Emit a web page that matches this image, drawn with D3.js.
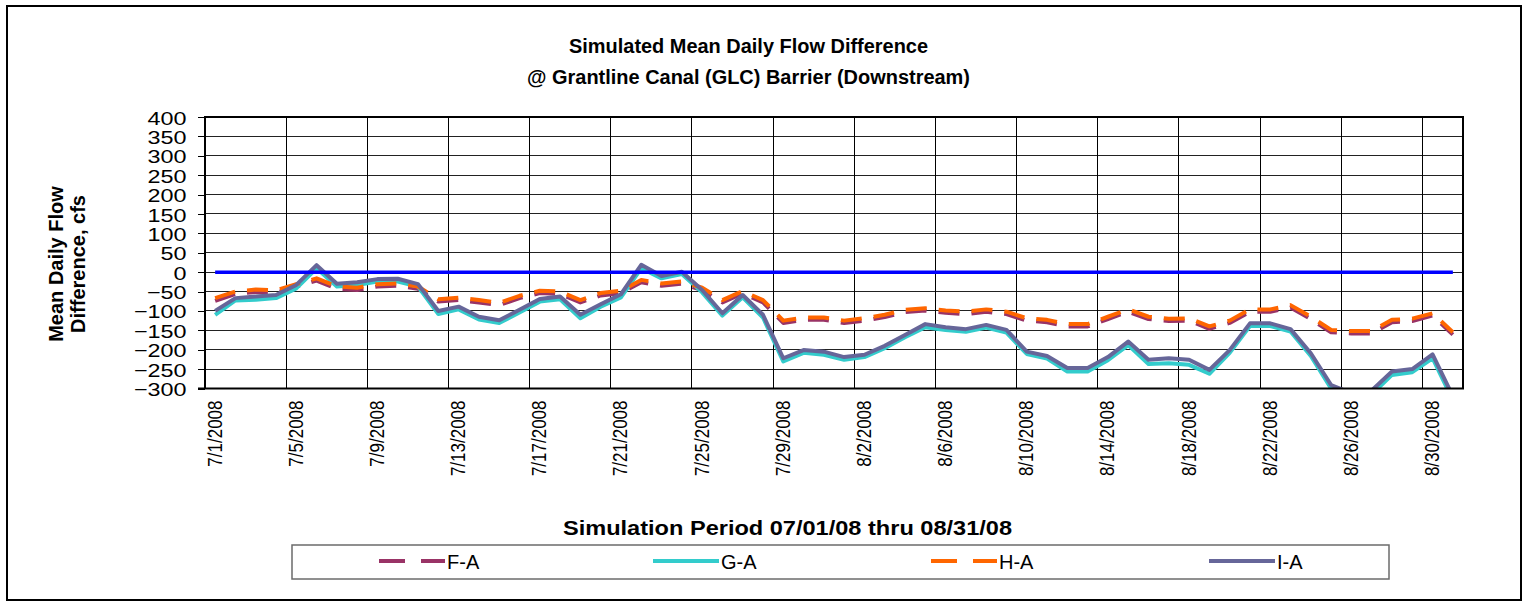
<!DOCTYPE html>
<html>
<head>
<meta charset="utf-8">
<script src="https://cdn.jsdelivr.net/npm/d3@7/dist/d3.min.js"></script>
<style>
  html, body { margin: 0; padding: 0; background: #fff; }
  svg { display: block; font-family: "Liberation Sans", Arial, sans-serif; }
</style>
</head>
<body>
<svg id="chart" width="1528" height="607"></svg>
<script>
const categories = [
  "7/1/2008","7/2/2008","7/3/2008","7/4/2008","7/5/2008","7/6/2008","7/7/2008","7/8/2008",
  "7/9/2008","7/10/2008","7/11/2008","7/12/2008","7/13/2008","7/14/2008","7/15/2008","7/16/2008",
  "7/17/2008","7/18/2008","7/19/2008","7/20/2008","7/21/2008","7/22/2008","7/23/2008","7/24/2008",
  "7/25/2008","7/26/2008","7/27/2008","7/28/2008","7/29/2008","7/30/2008","7/31/2008","8/1/2008",
  "8/2/2008","8/3/2008","8/4/2008","8/5/2008","8/6/2008","8/7/2008","8/8/2008","8/9/2008",
  "8/10/2008","8/11/2008","8/12/2008","8/13/2008","8/14/2008","8/15/2008","8/16/2008","8/17/2008",
  "8/18/2008","8/19/2008","8/20/2008","8/21/2008","8/22/2008","8/23/2008","8/24/2008","8/25/2008",
  "8/26/2008","8/27/2008","8/28/2008","8/29/2008","8/30/2008","8/31/2008"
];
const xTickLabels = ["7/1/2008","7/5/2008","7/9/2008","7/13/2008","7/17/2008","7/21/2008","7/25/2008",
  "7/29/2008","8/2/2008","8/6/2008","8/10/2008","8/14/2008","8/18/2008","8/22/2008","8/26/2008","8/30/2008"];
const yTicks = [400,350,300,250,200,150,100,50,0,-50,-100,-150,-200,-250,-300];

const seriesFA = [-74,-56,-51,-53,-37,-22,-43,-46,-37,-35,-43,-76,-72,-78,-85,-67,-54,-56,-78,-60,-54,-26,-35,-30,-46,-78,-55,-78,-131,-123,-123,-131,-125,-116,-103,-99,-105,-108,-102,-108,-125,-129,-140,-140,-121,-102,-121,-126,-125,-146,-131,-102,-102,-91,-121,-155,-158,-158,-129,-126,-112,-161];
const seriesGA = [-110,-73,-71,-67,-42,10,-37,-33,-24,-24,-37,-108,-96,-122,-131,-104,-76,-70,-119,-89,-65,10,-16,-5,-52,-112,-65,-117,-230,-208,-213,-226,-219,-196,-168,-142,-149,-154,-143,-156,-211,-223,-256,-256,-227,-188,-237,-235,-239,-262,-208,-139,-139,-153,-216,-300,-320,-315,-265,-258,-222,-330];
const seriesHA = [-67,-50,-45,-47,-31,-16,-37,-40,-31,-29,-37,-70,-66,-72,-79,-61,-48,-50,-72,-54,-48,-20,-29,-24,-40,-72,-49,-72,-125,-117,-117,-125,-119,-110,-97,-93,-99,-102,-96,-102,-119,-123,-134,-134,-115,-96,-115,-120,-119,-140,-125,-96,-96,-85,-115,-149,-152,-152,-123,-120,-106,-155];
const seriesIA = [-100,-67,-63,-59,-33,18,-30,-26,-18,-17,-31,-100,-89,-115,-124,-97,-69,-63,-110,-83,-57,19,-10,1,-46,-106,-59,-110,-222,-201,-205,-219,-213,-190,-162,-134,-142,-147,-136,-149,-205,-216,-247,-247,-219,-179,-226,-222,-226,-252,-201,-132,-132,-147,-209,-291,-312,-305,-256,-250,-212,-320];
const seriesBase = [0,0,0,0,0,0,0,0,0,0,0,0,0,0,0,0,0,0,0,0,0,0,0,0,0,0,0,0,0,0,0,0,0,0,0,0,0,0,0,0,0,0,0,0,0,0,0,0,0,0,0,0,0,0,0,0,0,0,0,0,0,0];

const seriesNames = ["F-A","G-A","H-A","I-A"];
const seriesColors = ["#993366","#33CCCC","#FF6600","#666699"];

const svg = d3.select("#chart");
const L = 205, R = 1463, T = 117, B = 388.5;

// outer border
svg.append("rect").attr("x",7).attr("y",6).attr("width",1514).attr("height",594)
  .attr("fill","#fff").attr("stroke","#000").attr("stroke-width",2);

const x = d3.scaleBand().domain(categories).range([L,R]).paddingInner(0).paddingOuter(0);
const bw = x.bandwidth();
const xc = c => x(c) + bw/2;
const y = d3.scaleLinear().domain([-300,400]).range([B,T]);

// gridlines
const grid = svg.append("g").attr("shape-rendering","crispEdges");
grid.selectAll("line.h").data(yTicks.filter(v => v!==400 && v!==-300)).join("line")
  .attr("x1",L).attr("x2",R).attr("y1",d=>y(d)).attr("y2",d=>y(d))
  .attr("stroke","#222").attr("stroke-width",1);
grid.selectAll("line.v").data(categories.filter((c,i)=> i>0 && i%4===0)).join("line")
  .attr("x1",d=>x(d)).attr("x2",d=>x(d)).attr("y1",T).attr("y2",B)
  .attr("stroke","#000").attr("stroke-width",1);

// y axis
const yAxis = svg.append("g").attr("transform",`translate(${L},0)`)
  .call(d3.axisLeft(y).tickValues(yTicks).tickSize(7).tickPadding(0).tickFormat(d3.format("d")));
yAxis.select(".domain").remove();
yAxis.selectAll(".tick line").attr("stroke","#000").attr("stroke-width",1).attr("shape-rendering","crispEdges");
yAxis.selectAll(".tick text").attr("font-size",19).attr("fill","#000")
  .attr("font-family","'Liberation Sans', Arial, sans-serif")
  .attr("x",0).attr("dy","0.37em")
  .attr("transform","translate(-18.5,0) scale(1.23,1)");

// x axis labels
const xAxis = svg.append("g").attr("transform",`translate(0,${B})`)
  .call(d3.axisBottom(x).tickValues(xTickLabels).tickSize(0).tickPadding(0));
xAxis.select(".domain").remove();
xAxis.selectAll(".tick text")
  .attr("font-size",17).attr("fill","#000")
  .attr("font-family","'Liberation Sans', Arial, sans-serif")
  .attr("text-anchor","end").attr("x",0).attr("y",0).attr("dy",0)
  .attr("transform","translate(6.5,12) scale(1.18,1) rotate(-90)");

// lines
const clip = svg.append("clipPath").attr("id","plotclip");
clip.append("rect").attr("x",L).attr("y",T).attr("width",R-L).attr("height",B-T);
const lineGen = d3.line().x((d,i)=>xc(categories[i])).y(d=>y(d));
const plot = svg.append("g").attr("clip-path","url(#plotclip)");
const seriesData = [seriesFA, seriesGA, seriesHA, seriesIA];
const dashes = ["21,12", null, "21,12", null];
seriesData.forEach((s,k)=>{
  plot.append("path").datum(s).attr("d",lineGen)
    .attr("fill","none").attr("stroke",seriesColors[k]).attr("stroke-width",4)
    .attr("stroke-linejoin","round")
    .attr("stroke-dasharray",dashes[k]);
});
plot.append("path").datum(seriesBase).attr("d",lineGen)
  .attr("fill","none").attr("stroke","#0000FF").attr("stroke-width",3.5);

// plot frame
svg.append("rect").attr("x",L).attr("y",T).attr("width",R-L).attr("height",B-T)
  .attr("fill","none").attr("stroke","#000").attr("stroke-width",2);
svg.append("line").attr("x1",198).attr("x2",L).attr("y1",B).attr("y2",B)
  .attr("stroke","#000").attr("stroke-width",2);

// titles
const title = svg.append("g").attr("font-weight","bold").attr("fill","#000").attr("text-anchor","middle");
title.append("text").attr("x",748.5).attr("y",53).attr("font-size",19.5)
  .attr("textLength",359).attr("lengthAdjust","spacingAndGlyphs")
  .text("Simulated Mean Daily Flow Difference");
title.append("text").attr("x",748.5).attr("y",84).attr("font-size",19.5)
  .attr("textLength",443).attr("lengthAdjust","spacingAndGlyphs")
  .text("@ Grantline Canal (GLC) Barrier (Downstream)");
title.append("text").attr("x",787.5).attr("y",535).attr("font-size",20)
  .attr("textLength",449).attr("lengthAdjust","spacingAndGlyphs")
  .text("Simulation Period 07/01/08 thru 08/31/08");
title.append("text").attr("transform","translate(63,264) rotate(-90)").attr("font-size",20)
  .text("Mean Daily Flow");
title.append("text").attr("transform","translate(85,264) rotate(-90)").attr("font-size",20)
  .text("Difference, cfs");

// legend
const lg = svg.append("g");
lg.append("rect").attr("x",292).attr("y",545).attr("width",1097).attr("height",34)
  .attr("fill","#fff").attr("stroke","#6b6b6b").attr("stroke-width",1.5);
const legX = [379, 653, 931, 1209];
const legDash = ["26,16", null, "26,16", null];
seriesNames.forEach((n,k)=>{
  lg.append("line").attr("x1",legX[k]).attr("x2",legX[k]+66).attr("y1",561).attr("y2",561)
    .attr("stroke",seriesColors[k]).attr("stroke-width",4).attr("stroke-dasharray",legDash[k]);
  lg.append("text").attr("x",legX[k]+68).attr("y",568.5).attr("font-size",20).attr("fill","#000").text(n);
});
</script>
</body>
</html>
